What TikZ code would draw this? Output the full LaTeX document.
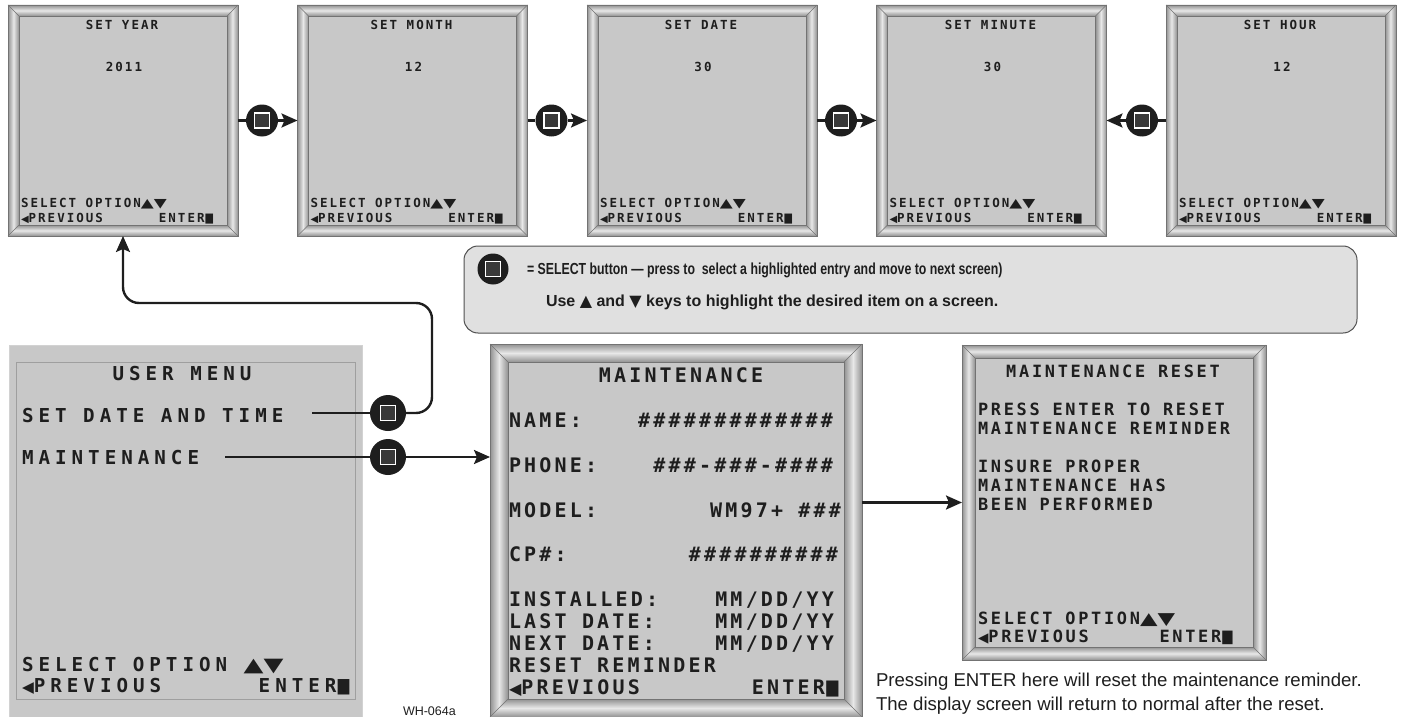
\documentclass[tikz,border=0pt]{standalone}
\usepackage{fontspec}
\newfontfamily\lcdfont{DejaVu Sans Mono}[LetterSpace=16]
\newfontfamily\lcdwide{DejaVu Sans Mono}[LetterSpace=26]
\newfontfamily\symfont{DejaVu Sans}
\newfontfamily\helv{Liberation Sans}
\newfontfamily\helvnarrow{Liberation Sans}[FakeStretch=0.77]
\usetikzlibrary{arrows.meta,calc,positioning}
\newcommand\keyup{{\symfont\mdseries\scalebox{1.35}[1]{▲}}}
\newcommand\keydn{{\symfont\mdseries\scalebox{1.35}[1]{▼}}}
\newcommand\keylt{{\symfont\mdseries\scalebox{0.8}{◀}}}
\newcommand\keyblk{{\symfont\mdseries\scalebox{0.8}[1.05]{■}}}
\definecolor{lcd}{RGB}{200,200,200}
\definecolor{note}{RGB}{224,224,224}
\definecolor{knob}{RGB}{30,30,30}
\definecolor{ink}{RGB}{30,30,30}
\definecolor{bevdark}{RGB}{145,145,145}
\definecolor{bevlight}{RGB}{232,232,232}
\definecolor{bevline}{RGB}{115,115,115}
\definecolor{boxline}{RGB}{80,80,80}
\tikzset{
  scr/.style={rectangle,fill=lcd,inner sep=0pt,outer sep=0pt},
  btn/.style={circle,fill=knob,inner sep=0pt,minimum size=32pt,
    path picture={\draw[white,line width=1.2pt,fill=knob!88!white]
      ([shift={(-7.5pt,-7.5pt)}]path picture bounding box.center) rectangle
      ([shift={(7.5pt,7.5pt)}]path picture bounding box.center);}},
  wire/.style={line width=2.4pt,draw=ink},
  notebox/.style={draw=boxline,fill=note,line width=1pt,rounded corners=14pt,inner sep=0pt},
  txt/.style={inner sep=0pt,outer sep=0pt,text=ink,text depth=0pt},
  lcdtop/.style={txt,text height=9.1pt,font=\lcdfont\bfseries\fontsize{12.5}{13}\selectfont},
  lcdum/.style={txt,text height=14pt,font=\lcdwide\bfseries\fontsize{19.2}{20}\selectfont},
  lcdmt/.style={txt,text height=14.6pt,font=\lcdfont\bfseries\fontsize{20}{21}\selectfont},
  lcdrs/.style={txt,text height=12.3pt,font=\lcdfont\bfseries\fontsize{16.9}{18}\selectfont},
  >={Stealth[length=16pt,width=14pt,inset=3pt]}
}
% beveled frame round a screen node: #1 node, #2 bevel width
\newcommand\bevelframe[2]{%
  \path[top color=bevdark,bottom color=bevdark,middle color=bevlight]
    (#1.north west) -- (#1.north east) -- ($(#1.north east)+(-#2,#2)$) -- ($(#1.north west)+(#2,#2)$) -- cycle;
  \path[top color=bevdark,bottom color=bevdark,middle color=bevlight]
    (#1.south west) -- (#1.south east) -- ($(#1.south east)+(-#2,-#2)$) -- ($(#1.south west)+(#2,-#2)$) -- cycle;
  \path[left color=bevdark,right color=bevdark,middle color=bevlight]
    (#1.north west) -- ($(#1.north west)+(#2,#2)$) -- ($(#1.south west)+(#2,-#2)$) -- (#1.south west) -- cycle;
  \path[left color=bevdark,right color=bevdark,middle color=bevlight]
    (#1.north east) -- ($(#1.north east)+(-#2,#2)$) -- ($(#1.south east)+(-#2,-#2)$) -- (#1.south east) -- cycle;
  \draw[bevline,line width=0.6pt] (#1.north west) rectangle (#1.south east);
  \draw[bevline,line width=0.6pt] ($(#1.north west)+(#2,#2)$) rectangle ($(#1.south east)+(-#2,-#2)$);
  \draw[bevline,line width=0.6pt] (#1.north west) -- ++(#2,#2) (#1.north east) -- ++(-#2,#2)
    (#1.south west) -- ++(#2,-#2) (#1.south east) -- ++(-#2,-#2);
}
\begin{document}
\begin{tikzpicture}[x=1pt,y=-1pt]
\useasboundingbox (0,0) rectangle (1401,717);
% top row: date and time screens
\foreach \ttl/\val [count=\i, evaluate=\i as \x using 8+289.5*(\i-1)] in
  {SET YEAR/2011, SET MONTH/12, SET DATE/30, SET MINUTE/30, SET HOUR/12}{
  \node[scr,minimum width=230pt,minimum height=231pt] (s\i) at (\x+115,120.5) {};
  \bevelframe{s\i}{11}
  \node[lcdtop] (s\i-t) at (\x+114,25) {\ttl};
  \node[lcdtop] (s\i-v) at (\x+116,67) {\val};
  \node[lcdtop,anchor=west] (s\i-o) at (\x+13,203) {SELECT OPTION\keyup\keydn};
  \node[lcdtop,anchor=west] (s\i-p) at (\x+13,218) {\keylt PREVIOUS};
  \node[lcdtop,anchor=east] (s\i-e) at (\x+206,218) {ENTER\keyblk};
}
\node[btn] (k1) at ([xshift=24pt]s1.east) {};
\node[btn] (k2) at ([xshift=24pt]s2.east) {};
\node[btn] (k3) at ([xshift=24pt]s3.east) {};
\node[btn] (k4) at ([xshift=-24pt]s5.west) {};
\foreach \a/\b in {1/2,2/3,3/4}{
  \draw[wire] (s\a) -- (k\a);
  \draw[wire,->] (k\a) -- (s\b);
}
\draw[wire] (s5) -- (k4);
\draw[wire,->] (k4) -- (s4);
% legend
\node[notebox,minimum width=893pt,minimum height=87pt] (lg) at (910.5,289.5) {};
\node[btn,minimum size=31pt] (lb) at (493,269) {};
\node[txt,anchor=base west,font=\helvnarrow\bfseries\fontsize{16}{18}\selectfont] (lg-a) at (527,274)
  {= SELECT button — press to~ select a highlighted entry and move to next screen)};
\node[txt,anchor=base west,font=\helv\bfseries\fontsize{16}{18}\selectfont] (lg-b) at (546,306.5)
  {Use {\symfont ▲} and {\symfont ▼} keys to highlight the desired item on a screen.};
% user menu
\node[scr,draw=gray!35,minimum width=353pt,minimum height=372pt] (um) at (185.5,531) {};
\draw[gray!75,line width=0.6pt] ($(um.north west)+(7,17)$) rectangle ($(um.south east)+(-7,-18)$);
\node[lcdum] (um-t) at (182,373.7) {USER MENU};
\node[lcdum,anchor=west] (um-a) at (22,415.7) {SET DATE AND TIME};
\node[lcdum,anchor=west] (um-b) at (22,457) {MAINTENANCE};
\node[lcdum,anchor=west] (um-o) at (22,664.7) {SELECT OPTION \keyup\keydn};
\node[lcdum,anchor=west] (um-p) at (22,685.3) {\keylt PREVIOUS};
\node[lcdum,anchor=east] (um-e) at (351,685.3) {ENTER\keyblk};
\node[btn,minimum size=36pt] (k5) at (388,413) {};
\node[btn,minimum size=36pt] (k6) at (388,457) {};
\coordinate (a0) at (312,413);
\coordinate (b0) at (225,457);
\draw[wire] (a0) -- (k5);
\draw[wire] (b0) -- (k6);
\draw[wire,->,rounded corners=16pt] (k5) -| (432,303) -| (s1);
\node[txt,anchor=base west,font=\helv\fontsize{12.5}{14}\selectfont] (id) at (403,715) {WH-064a};
% maintenance screen
\node[scr,minimum width=372pt,minimum height=373pt] (mt) at (676,530.5) {};
\bevelframe{mt}{18}
\draw[wire,->] (k6) -- (k6 -| mt.west);
\node[lcdmt] (mt-t) at (681,375.4) {MAINTENANCE};
\node[lcdmt,anchor=west] (mt-n) at (509,420) {NAME:};
\node[lcdmt,anchor=east] (mt-nv) at (833,420) {\#\#\#\#\#\#\#\#\#\#\#\#\#};
\node[lcdmt,anchor=west] (mt-p) at (509,465) {PHONE:};
\node[lcdmt,anchor=east] (mt-pv) at (833,465) {\#\#\#-\#\#\#-\#\#\#\#};
\node[lcdmt,anchor=west] (mt-m) at (509,510) {MODEL:};
\node[lcdmt,anchor=east] (mt-mv) at (841,510) {WM97+ \#\#\#};
\node[lcdmt,anchor=west] (mt-c) at (509,554.4) {CP\#:};
\node[lcdmt,anchor=east] (mt-cv) at (838,554.4) {\#\#\#\#\#\#\#\#\#\#};
\node[lcdmt,anchor=west] (mt-i) at (509,599.4) {INSTALLED:};
\node[lcdmt,anchor=east] (mt-iv) at (834,599.4) {MM/DD/YY};
\node[lcdmt,anchor=west] (mt-l) at (509,621.4) {LAST DATE:};
\node[lcdmt,anchor=east] (mt-lv) at (834,621.4) {MM/DD/YY};
\node[lcdmt,anchor=west] (mt-x) at (509,643.4) {NEXT DATE:};
\node[lcdmt,anchor=east] (mt-xv) at (834,643.4) {MM/DD/YY};
\node[lcdmt,anchor=west] (mt-r) at (509,665.4) {RESET REMINDER};
\node[lcdmt,anchor=west] (mt-pr) at (509,687) {\keylt PREVIOUS};
\node[lcdmt,anchor=east] (mt-e) at (840,687) {ENTER\keyblk};
% maintenance reset screen
\node[scr,minimum width=304pt,minimum height=315pt] (rs) at (1114,502.5) {};
\bevelframe{rs}{13}
\draw[wire,->] (rs.west -| mt.east) -- (rs.west);
\node[lcdrs] (rs-t) at (1113,371.2) {MAINTENANCE RESET};
\node[lcdrs,anchor=west] (rs-a) at (978,409.2) {PRESS ENTER TO RESET};
\node[lcdrs,anchor=west] (rs-b) at (978,427.9) {MAINTENANCE REMINDER};
\node[lcdrs,anchor=west] (rs-c) at (978,466.2) {INSURE PROPER};
\node[lcdrs,anchor=west] (rs-d) at (978,485.2) {MAINTENANCE HAS};
\node[lcdrs,anchor=west] (rs-f) at (978,503.9) {BEEN PERFORMED};
\node[lcdrs,anchor=west] (rs-o) at (978,617.9) {SELECT OPTION\keyup\keydn};
\node[lcdrs,anchor=west] (rs-p) at (978,636.6) {\keylt PREVIOUS};
\node[lcdrs,anchor=east] (rs-e) at (1234,636.6) {ENTER\keyblk};
\node[txt,anchor=base west,font=\helv\fontsize{18.6}{23}\selectfont] (rs-n1) at (876,686.7)
  {Pressing ENTER here will reset the maintenance reminder.};
\node[txt,anchor=base west,font=\helv\fontsize{18.6}{23}\selectfont] (rs-n2) at (876,710)
  {The display screen will return to normal after the reset.};
\end{tikzpicture}
\end{document}
